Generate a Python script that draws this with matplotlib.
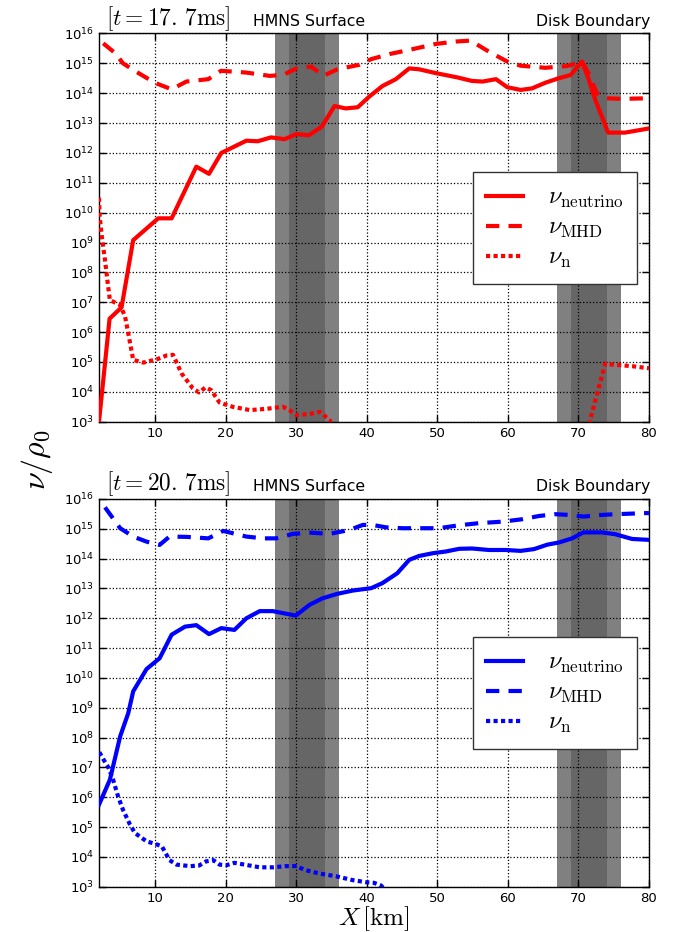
import numpy as np
import matplotlib
matplotlib.use("Agg")
import matplotlib.pyplot as plt
from matplotlib.transforms import blended_transform_factory

plt.rcParams["mathtext.fontset"] = "cm"
plt.rcParams["font.family"] = ["DejaVu Sans"]

# ---- t = 17.7 ms ----
x_nu_a = [2.0, 3.5, 5.2, 6.85, 10.4, 12.3, 15.8, 17.6, 19.35, 22.9, 24.5, 26.4, 28.3,
          30.0, 31.75, 33.6, 35.4, 37.0, 38.7, 40.3, 42.2, 44.1, 46.0, 47.4, 49.8,
          52.8, 54.9, 56.4, 58.3, 59.9, 61.8, 63.4, 65.3, 67.2, 68.9, 70.5, 71.4,
          72.4, 74.2, 76.6, 80.0]
lg_nu_a = [3.0, 6.45, 6.83, 9.08, 9.81, 9.81, 11.54, 11.3, 12.0, 12.41, 12.39, 12.52, 12.46,
           12.63, 12.59, 12.88, 13.57, 13.49, 13.53, 13.88, 14.24, 14.47, 14.83, 14.8, 14.67,
           14.53, 14.41, 14.39, 14.47, 14.2, 14.11, 14.16, 14.35, 14.5, 14.61, 15.06, 14.5,
           13.77, 12.68, 12.68, 12.82]

x_mhd_a = [2.6, 4.3, 5.4, 6.85, 9.9, 12.3, 14.4, 17.5, 19.3, 22.9, 26.2, 28.1, 30.0,
           32.1, 33.8, 35.8, 38.9, 40.6, 43.2, 46.0, 49.8, 52.6, 54.7, 57.3, 59.9,
           61.8, 65.3, 68.4, 70.5, 71.4, 72.6, 73.8, 76.2, 80.0]
lg_mhd_a = [15.67, 15.34, 15.0, 14.78, 14.35, 14.13, 14.39, 14.47, 14.75, 14.69, 14.58, 14.61, 14.83,
            14.89, 14.58, 14.8, 14.95, 15.14, 15.31, 15.45, 15.65, 15.73, 15.76, 15.39, 15.06,
            14.92, 14.85, 14.91, 15.06, 14.67, 14.0, 13.83, 13.81, 13.83]

x_n_a = [2.0, 2.1, 2.4, 2.85, 3.3, 3.55, 5.0, 5.7, 6.15, 6.85, 8.3, 10.2, 11.6, 12.5,
         13.7, 15.3, 16.2, 17.1, 17.9, 19.1, 20.95, 23.4, 25.7, 28.1, 29.0, 30.0,
         31.9, 33.3, 34.7, 36.0, 71.0, 71.7, 73.8, 74.0, 77.6, 80.0]
lg_n_a = [10.5, 9.86, 9.2, 8.41, 7.52, 7.07, 6.91, 6.52, 5.96, 5.07, 4.98, 5.09, 5.22, 5.24,
          4.62, 4.12, 3.98, 4.15, 4.06, 3.64, 3.5, 3.39, 3.43, 3.5, 3.39, 3.22,
          3.26, 3.33, 3.06, 2.0, 2.0, 3.11, 4.95, 4.93, 4.86, 4.79]

# ---- t = 20.7 ms ----
x_nu_b = [2.0, 3.55, 5.0, 6.15, 6.85, 8.75, 10.6, 12.3, 14.2, 15.8, 17.6, 19.35, 21.2,
          22.9, 24.8, 26.65, 29.9, 31.85, 33.7, 35.8, 38.0, 40.6, 42.2, 44.3, 46.0,
          47.4, 49.3, 51.2, 53.1, 54.9, 57.3, 59.7, 61.8, 63.7, 65.6, 67.2, 69.1,
          70.7, 73.3, 75.2, 77.6, 80.0]
lg_nu_b = [5.75, 6.59, 8.04, 8.82, 9.55, 10.3, 10.66, 11.45, 11.72, 11.77, 11.47, 11.67, 11.61,
           12.0, 12.24, 12.24, 12.09, 12.45, 12.67, 12.82, 12.93, 13.01, 13.18, 13.51, 13.96,
           14.09, 14.18, 14.24, 14.33, 14.34, 14.29, 14.29, 14.26, 14.32, 14.47, 14.54, 14.68,
           14.88, 14.88, 14.82, 14.66, 14.63]

x_mhd_b = [2.85, 5.0, 6.85, 8.75, 10.6, 12.0, 14.4, 17.5, 19.6, 22.9, 25.3, 27.1, 29.5,
           32.1, 34.7, 37.5, 39.4, 40.8, 42.7, 45.0, 48.4, 50.2, 53.1, 55.9, 59.2,
           62.0, 64.4, 66.7, 69.1, 70.7, 72.9, 75.2, 80.0]
lg_mhd_b = [15.72, 15.02, 14.74, 14.57, 14.46, 14.74, 14.73, 14.68, 14.93, 14.74, 14.68, 14.68, 14.83,
            14.87, 14.83, 14.96, 15.13, 15.13, 15.05, 15.02, 15.02, 15.02, 15.12, 15.19, 15.24,
            15.32, 15.43, 15.49, 15.46, 15.41, 15.46, 15.49, 15.53]

x_n_b = [2.05, 2.6, 3.3, 4.0, 4.7, 5.4, 6.4, 7.1, 8.75, 9.9, 10.9, 12.0, 13.0, 14.9,
         16.2, 17.2, 18.2, 19.1, 20.05, 21.2, 22.65, 24.8, 26.65, 28.5, 29.9, 31.4,
         33.3, 35.6, 38.0, 39.9, 41.0, 42.0, 44.0, 80.0]
lg_n_b = [7.51, 7.28, 7.01, 6.59, 6.03, 5.58, 5.08, 4.8, 4.52, 4.44, 4.36, 3.89, 3.74, 3.69,
          3.71, 3.85, 3.89, 3.74, 3.72, 3.8, 3.74, 3.65, 3.65, 3.69, 3.69, 3.55,
          3.44, 3.35, 3.22, 3.15, 3.13, 3.04, 2.5, 2.0]

times = ["17.\\,7", "20.\\,7"]
labels = [r"$\nu_{\rm neutrino}$", r"$\nu_{\rm MHD}$", r"$\nu_{\rm n}$"]
hmns_outer, hmns_inner = (27, 36), (29, 34)
disk_outer, disk_inner = (67, 76), (69, 74)
hmns_label_x, disk_label_x = 31.8, 72.1

fig = plt.figure(figsize=(6.79, 9.32), dpi=100)
ax_top = fig.add_axes([0.1458, 0.5475, 0.81, 0.4166])
ax_bot = fig.add_axes([0.1458, 0.0486, 0.81, 0.4160])

panels = [
    (ax_top, "#ff0000", (x_nu_a, lg_nu_a), (x_mhd_a, lg_mhd_a), (x_n_a, lg_n_a), times[0]),
    (ax_bot, "#0000ff", (x_nu_b, lg_nu_b), (x_mhd_b, lg_mhd_b), (x_n_b, lg_n_b), times[1]),
]

for ax, col, nu, mhd, nn, tlab in panels:
    for (a, b), c in [(hmns_outer, "#808080"), (disk_outer, "#808080"),
                      (hmns_inner, "#666666"), (disk_inner, "#666666")]:
        ax.axvspan(a, b, color=c, lw=0, zorder=1)
    ax.plot(nu[0], 10.0 ** np.array(nu[1]), color=col, lw=3, ls="-",
            label=labels[0], zorder=3)
    ax.plot(mhd[0], 10.0 ** np.array(mhd[1]), color=col, lw=3, ls=(0, (3.2, 2.2)),
            label=labels[1], zorder=3)
    ax.plot(nn[0], 10.0 ** np.array(nn[1]), color=col, lw=3, ls=(0, (1, 0.8)),
            label=labels[2], zorder=3)

    ax.set_yscale("log")
    ax.set_xlim(2, 80)
    ax.set_ylim(1e3, 1e16)
    ax.set_yticks([10.0 ** k for k in range(3, 17)])
    ax.yaxis.set_minor_locator(matplotlib.ticker.NullLocator())
    ax.set_xticks([10, 20, 30, 40, 50, 60, 70, 80])
    ax.tick_params(which="both", direction="in", top=True, right=True,
                   length=5, width=1, labelsize=9.5, color="k")
    ax.set_axisbelow("line")
    ax.grid(True, color="k", ls=":", lw=0.9)
    for sp in ax.spines.values():
        sp.set_color("k")
        sp.set_linewidth(1)

    tr = blended_transform_factory(ax.transData, ax.transAxes)
    ax.text(hmns_label_x, 1.012, "HMNS Surface", transform=tr,
            ha="center", va="bottom", fontsize=11.3)
    ax.text(disk_label_x, 1.012, "Disk Boundary", transform=tr,
            ha="center", va="bottom", fontsize=11.3)
    ax.text(0.012, 1.002, r"$[t=" + tlab + r"\mathrm{ms}]$", transform=ax.transAxes,
            ha="left", va="bottom", fontsize=16.8)

    leg = ax.legend(loc="center right", fontsize=17.5, handlelength=1.52,
                    handletextpad=1.0, labelspacing=0.2, borderpad=0.55,
                    borderaxespad=0.5, fancybox=False, framealpha=1)
    leg.get_frame().set_edgecolor("#333333")
    leg.get_frame().set_linewidth(1)

fig.text(0.5508, 0.0145, r"$X\,[\rm km]$", fontsize=18, ha="center", va="center")
fig.text(0.054, 0.5064, r"$\nu/\rho_0$", rotation=90, fontsize=23,
         ha="center", va="center")

fig.savefig("out.png", dpi=100, facecolor="white")
